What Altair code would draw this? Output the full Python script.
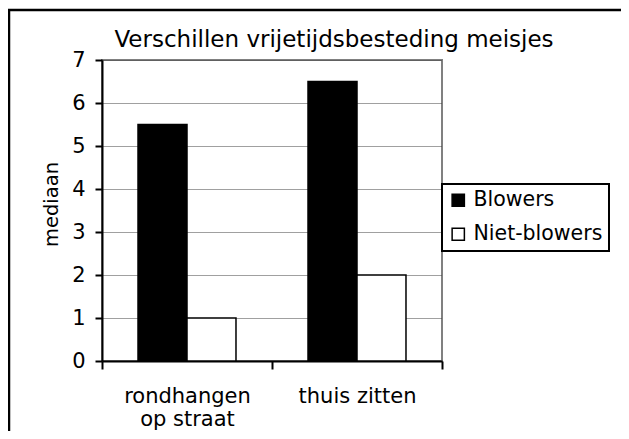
import altair as alt
import pandas as pd

categories = ["rondhangen op straat", "thuis zitten"]
series = ["Blowers", "Niet-blowers"]
blowers = [5.5, 6.5]
niet_blowers = [1, 2]
y_ticks = [0, 1, 2, 3, 4, 5, 6, 7]
title_text = "Verschillen vrijetijdsbesteding meisjes"

rows = []
for i, c in enumerate(categories):
    rows.append({"categorie": c, "groep": series[0], "mediaan": blowers[i]})
    rows.append({"categorie": c, "groep": series[1], "mediaan": niet_blowers[i]})
df = pd.DataFrame(rows)

FONT = "DejaVu Sans"
one = pd.DataFrame({"a": [0]})

frame = alt.Chart(one).mark_rect(
    fillOpacity=0, stroke="black", strokeWidth=2.5
).encode(
    x=alt.value(-93), x2=alt.value(700), y=alt.value(-50), y2=alt.value(600)
)

title = alt.Chart(one).mark_text(
    text=title_text, font=FONT, fontSize=23, color="black",
    align="center", baseline="alphabetic"
).encode(x=alt.value(232), y=alt.value(-13))

bars = alt.Chart(df).mark_bar(stroke="black", strokeWidth=1.5).encode(
    x=alt.X(
        "categorie:N",
        sort=categories,
        scale=alt.Scale(paddingInner=0, paddingOuter=0),
        axis=alt.Axis(
            title=None,
            labelAngle=0,
            tickBand="extent",
            domainColor="black",
            domainWidth=2,
            tickColor="black",
            tickWidth=2,
            tickSize=8,
            labelFontSize=21,
            labelFont=FONT,
            labelColor="black",
            labelPadding=16,
            labelLineHeight=23,
            labelBaseline="top",
            labelExpr="datum.value == 'rondhangen op straat' ? ['rondhangen', 'op straat'] : datum.value",
        ),
    ),
    xOffset=alt.XOffset(
        "groep:N", sort=series, scale=alt.Scale(paddingOuter=0.735, paddingInner=0)
    ),
    y=alt.Y(
        "mediaan:Q",
        scale=alt.Scale(domain=[0, 7], nice=False),
        axis=alt.Axis(
            title="mediaan",
            titleFontSize=19.5,
            titleFont=FONT,
            titleFontWeight="normal",
            titleColor="black",
            titlePadding=10,
            titleY=144,
            values=y_ticks,
            format="d",
            domainColor="black",
            domainWidth=2,
            tickColor="black",
            tickWidth=2,
            tickSize=7,
            labelFontSize=21,
            labelFont=FONT,
            labelColor="black",
            labelPadding=10,
            grid=True,
            gridColor="#404040",
            gridDash=[1, 1],
            gridWidth=1,
        ),
    ),
    color=alt.Color(
        "groep:N",
        sort=series,
        scale=alt.Scale(domain=series, range=["black", "white"]),
        legend=alt.Legend(
            title=None,
            orient="none",
            legendX=340,
            legendY=124,
            symbolType="square",
            symbolSize=150,
            symbolStrokeColor="black",
            symbolStrokeWidth=1.5,
            labelFontSize=20.5,
            labelFont=FONT,
            labelColor="black",
            labelOffset=5,
            rowPadding=13,
            padding=6,
            strokeColor="black",
            fillColor="white",
            cornerRadius=0,
        ),
    ),
)

chart = alt.layer(frame, bars, title).properties(
    width=340,
    height=301,
    autosize=alt.AutoSizeParams(type="none"),
    padding={"left": 94, "top": 52, "right": 179, "bottom": 70},
    background="white",
).configure_view(stroke="#808080", strokeWidth=2).configure_legend(strokeWidth=2)

chart.save("out.html", embed_options={"renderer": "svg", "actions": False})
